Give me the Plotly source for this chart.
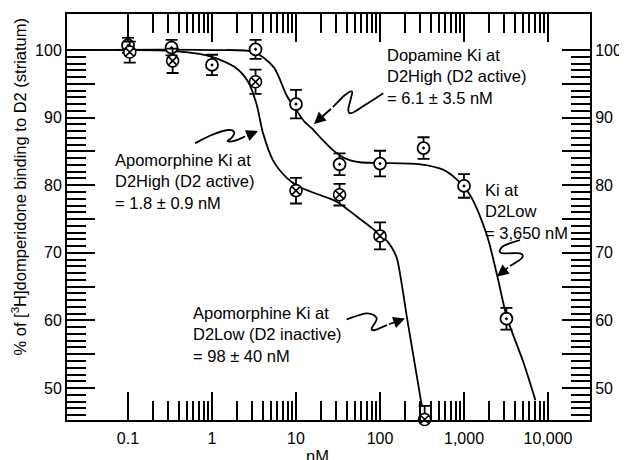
import plotly.graph_objects as go

# ---------------- data ----------------
conc_dopamine = [0.1, 0.33, 1, 3.3, 10, 33, 100, 330, 1000, 3200]
bind_dopamine = [100.7, 100.35, 97.8, 100.1, 92.0, 83.1, 83.2, 85.5, 79.9, 60.25]
err_dopamine = [1.1, 1.15, 1.5, 1.4, 2.1, 1.6, 1.9, 1.6, 1.75, 1.6]

conc_apomorphine = [0.105, 0.34, 3.3, 10, 33, 100, 340]
bind_apomorphine = [99.7, 98.4, 95.3, 79.2, 78.6, 72.5, 45.35]
err_apomorphine_up = [1.55, 1.8, 1.8, 1.9, 1.6, 2.0, 2.0]
err_apomorphine_down = [1.55, 1.8, 1.8, 1.9, 1.6, 2.0, 0.0]

# fitted curves
fit_dopamine_x = [0.0188, 1, 3.16, 5.4, 7.8, 10, 12.6, 15.8, 20, 27.5, 39.8, 57.5,
                  100, 302, 562, 813, 1175, 1862, 2455, 3236, 5129, 7079]
fit_dopamine_y = [100, 100, 99.7, 97.5, 93.2, 91.2, 89.4, 88.3, 86.9, 85.2, 83.9, 83.4,
                  83.3, 83.1, 82.3, 80.9, 78.6, 72.7, 66.9, 60.5, 53.7, 48.2]

fit_apomorphine_x = [0.0188, 0.38, 1, 1.95, 2.69, 3.39, 4.07, 5.37, 7.76, 11.2, 17.8,
                     30.2, 52.5, 83.2, 120, 138, 158, 182, 209, 275, 316]
fit_apomorphine_y = [100, 99.8, 99.0, 97.3, 95.3, 92.0, 87.6, 83.6, 81.1, 79.7, 78.7,
                     77.6, 75.4, 73.5, 71.8, 70.8, 69.3, 65.3, 60.5, 51.7, 47.2]

x_major = [0.1, 1, 10, 100, 1000, 10000]
x_major_text = ["0.1", "1", "10", "100", "1,000", "10,000"]
x_minor = [m * d for d in [0.1, 1, 10, 100, 1000] for m in range(2, 10)]
y_major = [50, 55, 60, 65, 70, 75, 80, 85, 90, 95, 100]
y_major_text = ["50", "", "60", "", "70", "", "80", "", "90", "", "100"]
y_minor = [v for v in range(46, 100) if v % 5 != 0]

y_title = "% of [<sup>3</sup>H]domperidone binding to D2 (striatum)"
x_title = "nM"
label_apo_high = "Apomorphine Ki at<br>D2High (D2 active)<br>= 1.8 ± 0.9 nM"
label_dop_high = "Dopamine Ki at<br>D2High (D2 active)<br>= 6.1 ± 3.5 nM"
label_dop_low = "Ki at<br>D2Low<br>= 3,650 nM"
label_apo_low = "Apomorphine Ki at<br>D2Low (D2 inactive)<br>= 98 ± 40 nM"

# ---------------- layout geometry (page pixels) ----------------
OFF = 8                      # default body margin of the html page
W, H = 627 - OFF, 460 - OFF  # figure size
L, R, T, B = 67, 590, 14, 420  # plot area in page pixels
PW, PH = R - L, B - T
FONT = "Arial, 'Liberation Sans', Helvetica, sans-serif"


def pp(x, y):
    return (x - L) / PW, (B - y) / PH


def smooth_path(pts):
    P = [pp(x, y) for x, y in pts]
    s = f"M {P[0][0]:.5f},{P[0][1]:.5f}"
    n = len(P)
    for i in range(n - 1):
        p0 = P[i - 1] if i > 0 else P[i]
        p1 = P[i]
        p2 = P[i + 1]
        p3 = P[i + 2] if i + 2 < n else P[i + 1]
        c1 = (p1[0] + (p2[0] - p0[0]) / 6, p1[1] + (p2[1] - p0[1]) / 6)
        c2 = (p2[0] - (p3[0] - p1[0]) / 6, p2[1] - (p3[1] - p1[1]) / 6)
        s += f" C {c1[0]:.5f},{c1[1]:.5f} {c2[0]:.5f},{c2[1]:.5f} {p2[0]:.5f},{p2[1]:.5f}"
    return s


fig = go.Figure()

fig.add_trace(go.Scatter(x=fit_dopamine_x, y=fit_dopamine_y, mode="lines",
                         line=dict(color="black", width=1.8, shape="spline", smoothing=0.8),
                         showlegend=False, hoverinfo="skip"))
fig.add_trace(go.Scatter(x=fit_apomorphine_x, y=fit_apomorphine_y, mode="lines",
                         line=dict(color="black", width=1.8, shape="spline", smoothing=0.8),
                         showlegend=False, hoverinfo="skip"))

fig.add_trace(go.Scatter(
    x=conc_dopamine, y=bind_dopamine, mode="markers",
    marker=dict(symbol="circle-dot", size=12, color="white",
                line=dict(color="black", width=1.8)),
    error_y=dict(type="data", array=err_dopamine, color="black", thickness=1.8, width=6),
    cliponaxis=False, showlegend=False))
fig.add_trace(go.Scatter(
    x=conc_apomorphine, y=bind_apomorphine, mode="markers",
    marker=dict(symbol="circle-x", size=12, color="white",
                line=dict(color="black", width=1.6)),
    error_y=dict(type="data", array=err_apomorphine_up, arrayminus=err_apomorphine_down,
                 color="black", thickness=1.8, width=6),
    cliponaxis=False, showlegend=False))

# invisible trace for mirrored axes
fig.add_trace(go.Scatter(x=[1], y=[80], xaxis="x2", yaxis="y2", mode="markers",
                         marker=dict(opacity=0), showlegend=False, hoverinfo="skip"))

xcommon = dict(type="log", range=[-1.726, 4.5], showline=True, linecolor="black", linewidth=2,
               ticks="inside", ticklen=28, tickwidth=1.8, tickcolor="black",
               tickvals=x_major, showgrid=False, zeroline=False, automargin=False,
               minor=dict(ticks="inside", ticklen=19, tickwidth=1.8, tickcolor="black",
                          tickmode="array", tickvals=x_minor, showgrid=False))
ycommon = dict(range=[45.27, 105.33], showline=True, linecolor="black", linewidth=2,
               ticks="inside", ticklen=28, tickwidth=1.8, tickcolor="black",
               tickvals=y_major, ticktext=y_major_text, tickmode="array",
               showgrid=False, zeroline=False, automargin=False,
               tickfont=dict(size=16, color="black", family=FONT),
               minor=dict(ticks="inside", ticklen=19, tickwidth=1.8, tickcolor="black",
                          tickmode="array", tickvals=y_minor, showgrid=False))

fig.update_layout(
    width=W, height=H, template="none",
    margin=dict(l=L - OFF, r=W - (R - OFF), t=T - OFF, b=H - (B - OFF), pad=0),
    paper_bgcolor="white", plot_bgcolor="white",
    font=dict(family=FONT, size=16, color="black"),
    xaxis=dict(**xcommon, ticktext=x_major_text, tickmode="array",
               tickfont=dict(size=16, color="black", family=FONT), ticklabelstandoff=3),
    xaxis2=dict(**xcommon, overlaying="x", side="top", anchor="y2", showticklabels=False),
    yaxis=dict(**ycommon, ticklabelstandoff=0),
    yaxis2=dict(**ycommon, overlaying="y", side="right", anchor="x2", ticklabelstandoff=0),
)

ann_font = dict(family=FONT, size=16.5, color="black")


def text_ann(txt, left, cy):
    x, y = pp(left, cy)
    fig.add_annotation(text=txt, x=x, y=y, xref="paper", yref="paper", xanchor="left",
                       yanchor="middle", align="left", showarrow=False, font=ann_font,
                       borderpad=0)


text_ann(label_apo_high, 114, 181)
text_ann(label_dop_high, 386, 76)
text_ann(label_dop_low, 484, 211.5)
text_ann(label_apo_low, 192, 334)

# axis titles
x, y = pp(20, 186.5)
fig.add_annotation(text=y_title, x=x, y=y, xref="paper", yref="paper", textangle=-90,
                   showarrow=False, font=ann_font, xanchor="center", yanchor="middle")
x, y = pp(317, 456)
fig.add_annotation(text=x_title, x=x, y=y, xref="paper", yref="paper",
                   showarrow=False, font=ann_font, xanchor="center", yanchor="middle")

# squiggly arrows (page pixels), last point is the start of the arrow shaft
squiggles = [
    ([(195, 143.3), (211.7, 135), (228.3, 130), (234.3, 132.3), (231.7, 137.7),
      (227.7, 141), (235, 140.7), (245, 136.5)], (258, 131)),
    ([(383.3, 93.3), (365, 105), (352, 113), (348.3, 110), (351, 98),
      (352, 91.5), (345, 95), (333, 107)], (314, 124)),
    ([(346.7, 319.3), (366.7, 313.3), (376.7, 318.3), (371.7, 328.3), (375, 330),
      (387, 325)], (405, 318.5)),
    ([(520, 240), (503.3, 246), (501, 253), (520, 253.3), (521.7, 258.3),
      (510, 266)], (497, 276.5)),
]
for pts, tip in squiggles:
    fig.add_shape(type="path", path=smooth_path(pts), xref="paper", yref="paper",
                  line=dict(color="black", width=1.8))
    tx, ty = pp(*tip)
    fig.add_annotation(text=" ", x=tx, y=ty, xref="paper", yref="paper", showarrow=True,
                       ax=pts[-1][0] - tip[0], ay=pts[-1][1] - tip[1],
                       arrowhead=2, arrowsize=1.3, arrowwidth=1.8, arrowcolor="black",
                       standoff=0, font=dict(size=2))

fig.write_html("out.html")
